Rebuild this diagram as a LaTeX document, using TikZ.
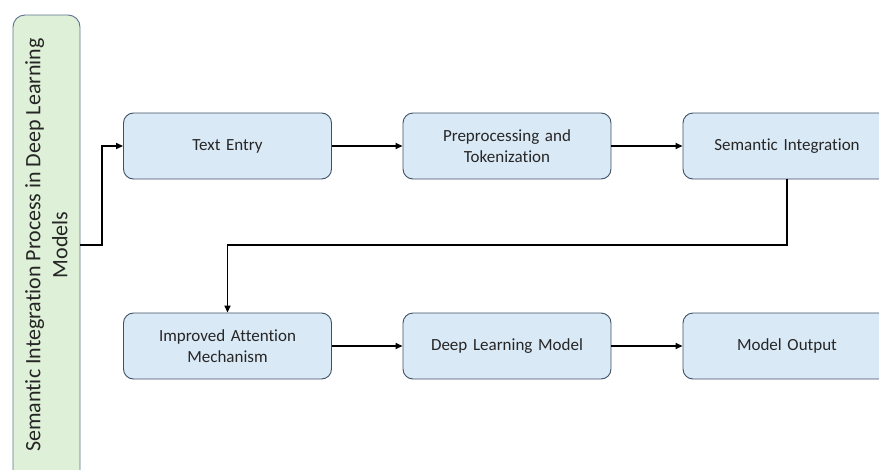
\documentclass[tikz,border=0pt]{standalone}
\usepackage{fontspec}
\setmainfont[Ligatures={NoCommon}]{Carlito}
\usetikzlibrary{arrows.meta}
\definecolor{boxfill}{HTML}{DAE9F6}
\definecolor{boxdraw}{HTML}{3F5066}
\definecolor{greenfill}{HTML}{DEF0D7}
\definecolor{greendraw}{HTML}{5E7491}
\definecolor{txt}{HTML}{262626}
\tikzset{
  procbox/.style={draw=boxdraw, fill=boxfill, line width=0.9pt, rounded corners=10pt,
    minimum width=208pt, minimum height=66pt, text width=190pt, align=center,
    font=\fontsize{17}{21}\selectfont, text=txt, inner sep=0pt},
  conn/.style={line width=1.6pt, -{Triangle[length=7pt,width=6pt]}},
}
\begin{document}
\begin{tikzpicture}[x=1pt,y=-1pt]
\useasboundingbox (0,0) rectangle (879,469);
\begin{scope}
\clip (0,0) rectangle (879,469);
\draw[draw=greendraw, fill=greenfill, line width=0.9pt, rounded corners=12pt] (13,15) rectangle (80,485);
\node[rotate=90, align=center, font=\fontsize{22}{27}\selectfont, text=txt] (title) at (46.5,245) {Semantic Integration Process in Deep Learning\\Models};
\coordinate (gout) at (80,245);
\node[procbox] (n1) at (227.5,146) {Text Entry};
\node[procbox] (n2) at (507,146) {Preprocessing and\\Tokenization};
\node[procbox] (n3) at (787,146) {Semantic Integration};
\node[procbox] (n4) at (227.5,346) {Improved Attention\\Mechanism};
\node[procbox] (n5) at (507,346) {Deep Learning Model};
\node[procbox] (n6) at (787,346) {Model Output};
\draw[conn] (gout) -- (102,245) |- (n1.west);
\draw[conn] (n1) -- (n2);
\draw[conn] (n2) -- (n3);
\draw[conn] (n3.south) -- (787,245) -| (n4.north);
\draw[conn] (n4) -- (n5);
\draw[conn] (n5) -- (n6);
\end{scope}
\end{tikzpicture}
\end{document}
